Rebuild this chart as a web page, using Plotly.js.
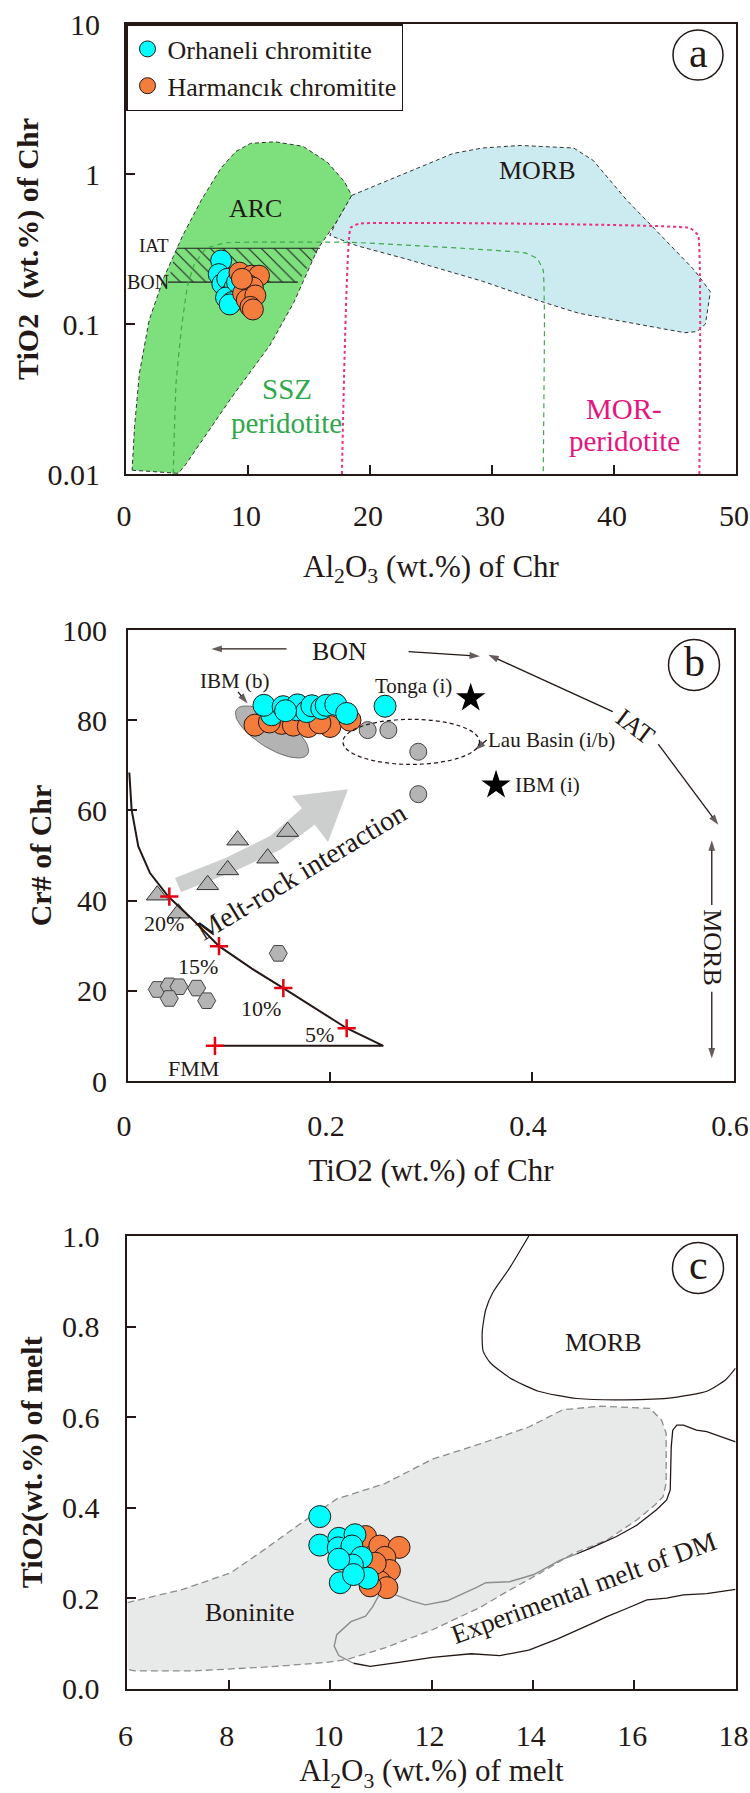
<!DOCTYPE html>
<html><head><meta charset="utf-8">
<script src="https://cdn.plot.ly/plotly-3.0.1.min.js"></script>
<style>html,body{margin:0;padding:0;background:#fff}#chart{width:750px;height:1793px}</style>
</head><body><div id="chart"></div>
<script>
// ---------------- Panel a data ----------------
const arcX = [0.5, 4.3, 4.9, 8.6, 11.8, 13.75, 15.7, 17.3, 18.5, 17.9, 16.5, 14.5, 12.2, 10.2, 9.0, 7.8, 6.2, 4.66, 3.1, 1.9, 1.1, 0.7, 0.5];
const arcY = [0.0106, 0.0101, 0.0116, 0.0319, 0.0723, 0.139, 0.315, 0.487, 0.72, 0.89, 1.2, 1.53, 1.64, 1.6, 1.41, 1.1, 0.676, 0.39, 0.204, 0.106, 0.047, 0.0207, 0.0106];
const morbAX = [18.5, 26.8, 29.2, 32.3, 36.7, 38.3, 41.0, 43.8, 46.6, 47.9, 47.5, 46.8, 45.8, 41.0, 37.1, 34.3, 29.2, 23.2, 18.9, 16.7, 17.3, 18.5];
const morbAY = [0.72, 1.37, 1.49, 1.55, 1.49, 1.23, 0.676, 0.39, 0.228, 0.164, 0.1, 0.089, 0.0875, 0.103, 0.118, 0.139, 0.193, 0.268, 0.333, 0.39, 0.487, 0.72];
const sszX = [3.87, 4.1, 4.56, 5.03, 5.6, 6.61, 8.25, 18.5, 32.7, 33.7, 34.2, 34.3, 34.2];
const sszY = [0.01, 0.04, 0.096, 0.177, 0.25, 0.32, 0.348, 0.35, 0.298, 0.273, 0.228, 0.106, 0.01];
const morPerX = [17.7, 18.4, 19.1, 46.2, 46.9, 47.0];
const morPerY = [0.01, 0.437, 0.467, 0.437, 0.39, 0.01];
const bandX = [4.15, 15.9, 14.1, 3.45, 4.15];
const bandY = [0.32, 0.32, 0.19, 0.19, 0.32];
const bandLineX = [4.15, 15.9, null, 3.45, 14.1];
const bandLineY = [0.32, 0.32, null, 0.19, 0.19];
const orhA_x = [7.8, 7.6, 7.9, 8.3, 8.6, 8.9, 8.2, 8.7, 9.1, 8.5];
const orhA_y = [0.265, 0.215, 0.185, 0.2, 0.16, 0.175, 0.15, 0.14, 0.19, 0.135];
const harA_x = [9.3, 10.3, 10.9, 9.7, 10.1, 9.6, 10.4, 9.9, 10.6, 10.2, 9.5, 10.4];
const harA_y = [0.22, 0.21, 0.21, 0.19, 0.18, 0.16, 0.175, 0.145, 0.155, 0.13, 0.2, 0.125];

// ---------------- Panel b data ----------------
const orhB_x = [0.2545, 0.1422, 0.1346, 0.1536, 0.167, 0.1678, 0.1769, 0.182, 0.1918, 0.1962, 0.2057, 0.2165, 0.156];
const orhB_y = [83.1, 81.2, 83.3, 83.0, 82.3, 83.4, 81.9, 83.2, 82.6, 83.3, 83.5, 81.5, 82.1];
const harB_x = [0.1257, 0.1522, 0.1637, 0.1785, 0.2, 0.2198, 0.14, 0.19];
const harB_y = [78.9, 79.3, 78.9, 78.6, 78.6, 80.0, 79.6, 79.4];
const lauX = [0.2373, 0.2578, 0.2874, 0.2874];
const lauY = [77.8, 77.8, 73.0, 63.6];
const triX = [0.1086, 0.1581, 0.0987, 0.1383, 0.0789, 0.029, 0.0498];
const triY = [53.4, 55.3, 46.8, 49.4, 43.5, 41.2, 37.2];
const hexX = [0.029, 0.0409, 0.0505, 0.0409, 0.068, 0.0779, 0.1488];
const hexY = [20.3, 21.1, 20.9, 18.3, 20.6, 17.8, 28.3];
const starX = [0.3393, 0.3644];
const starY = [84.9, 65.6];
const meltCurveX = [0.0013, 0.0036, 0.0102, 0.0218, 0.0399, 0.0635, 0.0901, 0.1227, 0.1538, 0.1867, 0.2165, 0.2528, 0.0861];
const meltCurveY = [68.4, 60.1, 52.0, 46.1, 40.9, 35.9, 29.9, 24.9, 20.6, 16.0, 11.7, 7.8, 7.8];
const meltStepX = [0.0409, 0.0901, 0.1538, 0.2165, 0.0861];
const meltStepY = [40.9, 29.9, 20.6, 11.7, 7.8];
const meltStepLbl = ['20%', '15%', '10%', '5%', 'FMM'];
const meltLblX = [0.0356, 0.0696, 0.1314, 0.19, 0.0653];
const meltLblY = [35.0, 25.3, 16.1, 10.4, 2.8];
const mriArrowX = [0.0465, 0.096, 0.1406, 0.1723, 0.1624, 0.2178, 0.198, 0.185, 0.1505, 0.103, 0.0525, 0.0465];
const mriArrowY = [45.0, 49.4, 54.3, 60.5, 63.2, 64.7, 53.0, 56.8, 51.2, 46.3, 41.9, 45.0];
const ibmB = {cx: 0.1426, cy: 77.4, a: 42, b: 16, deg: 32};
const lauBasin = {x0: 0.2128, x1: 0.348, y0: 70.2, y1: 80.2};
// arrows of panel b: [x tail, y tail, x head, y head]
const arrowsB = [
  [0.157, 95.8, 0.0825, 95.8],
  [0.2778, 95.2, 0.3485, 94.2],
  [0.4799, 81.9, 0.3567, 94.5],
  [0.525, 74.7, 0.5845, 56.8],
  [0.578, 39.0, 0.578, 53.4],
  [0.578, 19.8, 0.578, 5.0],
  [0.1089, 86.3, 0.1184, 83.7],
  [0.3551, 75.6, 0.3436, 73.4]
];

// ---------------- Panel c data ----------------
const bonX = [6.0, 7.09, 8.04, 8.7, 9.37, 10.13, 11.08, 12.02, 12.97, 13.92, 14.59, 15.34, 16.31, 16.54, 16.63, 16.63, 16.57, 16.41, 16.05, 15.46, 14.8, 14.14, 13.5, 12.97, 12.02, 11.08, 10.32, 9.94, 8.8, 7.28, 6.14, 6.0];
const bonY = [0.19, 0.219, 0.256, 0.307, 0.361, 0.419, 0.453, 0.507, 0.541, 0.578, 0.616, 0.624, 0.619, 0.593, 0.564, 0.454, 0.424, 0.406, 0.3725, 0.328, 0.299, 0.255, 0.215, 0.18, 0.13, 0.09, 0.064, 0.058, 0.048, 0.039, 0.039, 0.043];
const morbCX = [13.92, 13.54, 13.21, 13.07, 13.0, 13.02, 13.16, 13.54, 14.11, 14.87, 15.82, 16.77, 17.43, 17.81, 18.0];
const morbCY = [1.0, 0.929, 0.875, 0.837, 0.787, 0.745, 0.72, 0.687, 0.657, 0.641, 0.638, 0.643, 0.657, 0.683, 0.708];
const expUpBlkX = [18.0, 17.43, 17.23, 16.97, 16.84, 16.76, 16.73, 16.71, 16.64, 16.44, 16.05, 15.65, 15.13, 14.87];
const expUpBlkY = [0.545, 0.568, 0.571, 0.582, 0.582, 0.571, 0.534, 0.439, 0.417, 0.395, 0.361, 0.336, 0.31, 0.298];
const expUpGryX = [14.87, 14.54, 14.02, 13.54, 13.07, 12.88, 12.31, 11.88, 11.6, 11.22];
const expUpGryY = [0.298, 0.284, 0.252, 0.236, 0.234, 0.223, 0.194, 0.185, 0.194, 0.21];
const expLoGryX = [10.98, 10.84, 10.7, 10.41, 10.13, 10.08, 10.17, 10.46];
const expLoGryY = [0.21, 0.181, 0.16, 0.148, 0.119, 0.094, 0.073, 0.056];
const expLoBlkX = [10.46, 10.79, 11.36, 12.02, 12.78, 13.35, 13.92, 14.49, 15.25, 15.46, 15.85, 16.25, 16.64, 16.97, 17.43, 18.0];
const expLoBlkY = [0.056, 0.049, 0.058, 0.069, 0.077, 0.073, 0.085, 0.11, 0.148, 0.159, 0.177, 0.196, 0.2, 0.207, 0.21, 0.219];
const orhC_x = [9.795, 9.795, 10.17, 10.49, 10.16, 10.43, 10.62, 10.44, 10.17, 10.20, 10.74, 10.46];
const orhC_y = [0.380, 0.317, 0.332, 0.340, 0.311, 0.315, 0.290, 0.273, 0.286, 0.234, 0.244, 0.252];
const harC_x = [10.70, 10.98, 11.36, 11.08, 11.17, 10.98, 11.12, 10.79, 10.89];
const harC_y = [0.336, 0.315, 0.312, 0.290, 0.261, 0.236, 0.223, 0.227, 0.277];

// tick labels
const aXticks = [0, 10, 20, 30, 40, 50];
const aYticks = [0.01, 0.1, 1, 10];
const aYtickText = ['0.01', '0.1', '1', '10'];
const bXticks = [0, 0.2, 0.4, 0.6];
const bXtickText = ['0', '0.2', '0.4', '0.6'];
const cYticks = [0, 0.2, 0.4, 0.6, 0.8, 1.0];

// ---------------- layout helpers ----------------
const W = 750, H = 1793;
const F = 'Liberation Serif, Times New Roman, Times, serif';
const INK = '#231815';
const CYAN = '#00FFFF', ORANGE = '#F47C3C', GREY = '#B4B4B4';
const px = v => v / W, py = v => 1 - v / H;
const boxA = {l: 126, r: 736, t: 24, b: 474};
const boxB = {l: 128, r: 734, t: 630, b: 1081};
const boxC = {l: 127.4, r: 735.6, t: 1236, b: 1688.6};

// ellipse outline for IBM (b) field
const bRangeX = [0, 0.6], bRangeY = [0, 100];
const sx = (boxB.r - boxB.l) / (bRangeX[1] - bRangeX[0]);
const sy = (boxB.b - boxB.t) / (bRangeY[1] - bRangeY[0]);
const ellX = [], ellY = [];
{
  const th = ibmB.deg * Math.PI / 180;
  for (let i = 0; i <= 72; i++) {
    const t = i / 72 * 2 * Math.PI;
    const dx = ibmB.a * Math.cos(t) * Math.cos(th) - ibmB.b * Math.sin(t) * Math.sin(th);
    const dy = ibmB.a * Math.cos(t) * Math.sin(th) + ibmB.b * Math.sin(t) * Math.cos(th);
    ellX.push(ibmB.cx + dx / sx);
    ellY.push(ibmB.cy - dy / sy);
  }
}

const mk = (color, size) => ({color: color, size: size, line: {color: INK, width: 1}});
const traces = [
  // panel a
  {x: morbAX, y: morbAY, xaxis: 'x', yaxis: 'y', mode: 'lines', fill: 'toself', fillcolor: '#CBEBF0', line: {color: '#333', width: 1, dash: '4px,3px'}, showlegend: false, hoverinfo: 'skip'},
  {x: arcX, y: arcY, xaxis: 'x', yaxis: 'y', mode: 'lines', fill: 'toself', fillcolor: '#7DE07D', line: {color: '#333', width: 1, dash: '4px,3px'}, showlegend: false, hoverinfo: 'skip'},
  {x: bandX, y: bandY, xaxis: 'x', yaxis: 'y', mode: 'none', fill: 'toself', fillcolor: 'rgba(0,0,0,0)', fillpattern: {shape: '\\', fgcolor: '#222', bgcolor: 'rgba(0,0,0,0)', size: 9, solidity: 0.12}, showlegend: false, hoverinfo: 'skip'},
  {x: bandLineX, y: bandLineY, xaxis: 'x', yaxis: 'y', mode: 'lines', line: {color: '#222', width: 1.2}, showlegend: false, hoverinfo: 'skip'},
  {x: sszX, y: sszY, xaxis: 'x', yaxis: 'y', mode: 'lines', line: {color: '#3DAA4A', width: 1.2, dash: '5px,4px', shape: 'spline', smoothing: 0.3}, showlegend: false, hoverinfo: 'skip'},
  {x: morPerX, y: morPerY, xaxis: 'x', yaxis: 'y', mode: 'lines', line: {color: '#E8317F', width: 2, dash: 'dot', shape: 'spline', smoothing: 0.3}, showlegend: false, hoverinfo: 'skip'},
  {x: orhA_x, y: orhA_y, xaxis: 'x', yaxis: 'y', mode: 'markers', name: 'Orhaneli chromitite', marker: mk(CYAN, 21), legendgroup: 'o'},
  {x: harA_x, y: harA_y, xaxis: 'x', yaxis: 'y', mode: 'markers', name: 'Harmancık chromitite', marker: mk(ORANGE, 21), legendgroup: 'h'},
  // panel b
  {x: mriArrowX, y: mriArrowY, xaxis: 'x2', yaxis: 'y2', mode: 'none', fill: 'toself', fillcolor: '#CDCECE', showlegend: false, hoverinfo: 'skip'},
  {x: ellX, y: ellY, xaxis: 'x2', yaxis: 'y2', mode: 'lines', fill: 'toself', fillcolor: '#B3B3B3', line: {color: '#555', width: 0.8}, showlegend: false, hoverinfo: 'skip'},
  {x: harB_x, y: harB_y, xaxis: 'x2', yaxis: 'y2', mode: 'markers', name: 'Harmancık chromitite', marker: mk(ORANGE, 22), showlegend: false},
  {x: orhB_x, y: orhB_y, xaxis: 'x2', yaxis: 'y2', mode: 'markers', name: 'Orhaneli chromitite', marker: mk(CYAN, 22), showlegend: false},
  {x: lauX, y: lauY, xaxis: 'x2', yaxis: 'y2', mode: 'markers', marker: {color: GREY, size: 17, line: {color: '#444', width: 1}}, showlegend: false},
  {x: triX, y: triY, xaxis: 'x2', yaxis: 'y2', mode: 'markers', marker: {symbol: 'triangle-up', color: GREY, size: 19, line: {color: '#333', width: 1}}, showlegend: false},
  {x: hexX, y: hexY, xaxis: 'x2', yaxis: 'y2', mode: 'markers', marker: {symbol: 'hexagon2', color: GREY, size: 18, line: {color: '#444', width: 1}}, showlegend: false},
  {x: starX, y: starY, xaxis: 'x2', yaxis: 'y2', mode: 'markers', marker: {symbol: 'star', color: '#000', size: 22, line: {width: 0}}, showlegend: false},
  {x: meltCurveX, y: meltCurveY, xaxis: 'x2', yaxis: 'y2', mode: 'lines', line: {color: INK, width: 2}, showlegend: false, hoverinfo: 'skip'},
  {x: meltStepX, y: meltStepY, xaxis: 'x2', yaxis: 'y2', mode: 'markers', marker: {symbol: 'cross-thin', size: 13, line: {color: '#E60012', width: 2.5}}, showlegend: false},
  // panel c
  {x: bonX, y: bonY, xaxis: 'x3', yaxis: 'y3', mode: 'lines', fill: 'toself', fillcolor: '#E8E9E9', line: {color: '#8C8C8C', width: 1.3, dash: '7px,4px'}, showlegend: false, hoverinfo: 'skip'},
  {x: morbCX, y: morbCY, xaxis: 'x3', yaxis: 'y3', mode: 'lines', line: {color: INK, width: 1.2, shape: 'spline', smoothing: 0.6}, showlegend: false, hoverinfo: 'skip'},
  {x: expUpBlkX, y: expUpBlkY, xaxis: 'x3', yaxis: 'y3', mode: 'lines', line: {color: INK, width: 1.3}, showlegend: false, hoverinfo: 'skip'},
  {x: expLoBlkX, y: expLoBlkY, xaxis: 'x3', yaxis: 'y3', mode: 'lines', line: {color: INK, width: 1.3}, showlegend: false, hoverinfo: 'skip'},
  {x: expUpGryX, y: expUpGryY, xaxis: 'x3', yaxis: 'y3', mode: 'lines', line: {color: '#8C8C8C', width: 1.4}, showlegend: false, hoverinfo: 'skip'},
  {x: expLoGryX, y: expLoGryY, xaxis: 'x3', yaxis: 'y3', mode: 'lines', line: {color: '#8C8C8C', width: 1.4}, showlegend: false, hoverinfo: 'skip'},
  {x: harC_x, y: harC_y, xaxis: 'x3', yaxis: 'y3', mode: 'markers', name: 'Harmancık chromitite', marker: mk(ORANGE, 22), showlegend: false},
  {x: orhC_x, y: orhC_y, xaxis: 'x3', yaxis: 'y3', mode: 'markers', name: 'Orhaneli chromitite', marker: mk(CYAN, 22), showlegend: false}
];
// arrows as line traces with arrow-head markers
arrowsB.forEach(a => traces.push({
  x: [a[0], a[2]], y: [a[1], a[3]], xaxis: 'x2', yaxis: 'y2', mode: 'lines+markers',
  line: {color: INK, width: 1.3},
  marker: {symbol: 'arrow', angleref: 'previous', size: [0, 11], color: INK, line: {width: 0}},
  showlegend: false, hoverinfo: 'skip'
}));

const tickFont = {family: F, size: 30, color: INK};
const base = {showline: true, linecolor: INK, linewidth: 2, mirror: true, ticks: 'inside', tickcolor: INK, tickwidth: 2, ticklen: 9, showgrid: false, zeroline: false, tickfont: tickFont, ticklabeloverflow: 'allow'};
const xTitleFont = {family: F, size: 31, color: INK};
const yTitleFont = {family: F, size: 30, color: INK, weight: 'bold'};

const T = (x, y, text, size, ref, opt) => Object.assign({x: x, y: y, xref: ref[0], yref: ref[1], xanchor: 'center', yanchor: 'middle', text: text, showarrow: false, font: {family: F, size: size, color: INK}}, opt || {});
const ra = ['x', 'y'], rb = ['x2', 'y2'], rc = ['x3', 'y3'];
const L = Math.log10;
const green = '#2FA84A', pink = '#E4157F';

const annotations = [
  T(10.6, L(0.59), 'ARC', 26, ra),
  T(33.7, L(1.05), 'MORB', 26, ra),
  T(2.29, L(0.333), 'IAT', 19, ra),
  T(1.78, L(0.191), 'BON', 20, ra),
  T(13.16, L(0.0366), 'SSZ', 29, ra, {font: {family: F, size: 29, color: green}}),
  T(13.16, L(0.0218), 'peridotite', 29, ra, {font: {family: F, size: 29, color: green}}),
  T(40.83, L(0.0271), 'MOR-', 29, ra, {font: {family: F, size: 29, color: pink}}),
  T(40.83, L(0.0166), 'peridotite', 29, ra, {font: {family: F, size: 29, color: pink}}),
  // panel b
  T(0.2095, 95.2, 'BON', 26, rb),
  T(0.502, 78.6, 'IAT', 26, rb, {textangle: 37}),
  T(0.578, 29.5, 'MORB', 26, rb, {textangle: 90}),
  T(0.1056, 88.6, 'IBM (b)', 21, rb),
  T(0.2825, 87.6, 'Tonga (i)', 21, rb),
  T(0.4195, 75.6, 'Lau Basin (i/b)', 21, rb),
  T(0.4155, 65.6, 'IBM (i)', 21, rb),
  T(0.172, 46.4, 'Melt-rock interaction', 28, rb, {textangle: -31}),
  // panel c
  T(15.39, 0.764, 'MORB', 26, rc),
  T(8.42, 0.169, 'Boninite', 26, rc),
  T(15.0, 0.222, 'Experimental melt of DM', 27, rc, {textangle: -20}),
  // panel letters
  T(px(698), py(53), 'a', 42, ['paper', 'paper']),
  T(px(694), py(662), 'b', 42, ['paper', 'paper']),
  T(px(698), py(1265), 'c', 42, ['paper', 'paper'])
];
meltStepLbl.forEach((s, i) => annotations.push(T(meltLblX[i], meltLblY[i], s, 22, rb)));

const circ = (cx, cy, r) => ({type: 'circle', xref: 'paper', yref: 'paper', x0: px(cx - r), x1: px(cx + r), y0: py(cy + r), y1: py(cy - r), line: {color: INK, width: 1.5}});
const shapes = [
  circ(698, 55, 25), circ(694, 665, 25.5), circ(698, 1268, 25.5),
  {type: 'circle', xref: 'x2', yref: 'y2', x0: lauBasin.x0, x1: lauBasin.x1, y0: lauBasin.y0, y1: lauBasin.y1, line: {color: INK, width: 1.2, dash: '4px,3px'}}
];

const layout = {
  width: W, height: H, margin: {l: 0, r: 0, t: 0, b: 0},
  paper_bgcolor: '#fff', plot_bgcolor: 'rgba(0,0,0,0)',
  font: {family: F, color: INK},
  showlegend: true,
  legend: {x: px(boxA.l), y: py(boxA.t), xanchor: 'left', yanchor: 'top', bgcolor: '#fff', bordercolor: INK, borderwidth: 1.5, font: {family: F, size: 26, color: INK}, tracegroupgap: 0},
  xaxis: Object.assign({}, base, {domain: [px(boxA.l), px(boxA.r)], range: [0, 50], tickvals: aXticks, anchor: 'y', ticklabelstandoff: 14, ticklabelshift: -2, title: {text: 'Al<sub>2</sub>O<sub>3</sub> (wt.%) of Chr', font: xTitleFont, standoff: 24}}),
  yaxis: Object.assign({}, base, {domain: [py(boxA.b), py(boxA.t)], type: 'log', range: [-2, 1], tickvals: aYticks, ticktext: aYtickText, anchor: 'x', ticklabelstandoff: 18, title: {text: 'TiO2  (wt.%) of Chr', font: yTitleFont, standoff: 0}}),
  xaxis2: Object.assign({}, base, {domain: [px(boxB.l), px(boxB.r)], range: bRangeX, tickvals: bXticks, ticktext: bXtickText, anchor: 'y2', ticklabelstandoff: 17, ticklabelshift: -4, title: {text: 'TiO2 (wt.%) of Chr', font: xTitleFont, standoff: 18}}),
  yaxis2: Object.assign({}, base, {domain: [py(boxB.b), py(boxB.t)], range: bRangeY, dtick: 20, anchor: 'x2', ticklabelstandoff: 13, title: {text: 'Cr# of Chr', font: yTitleFont, standoff: 2}}),
  xaxis3: Object.assign({}, base, {domain: [px(boxC.l), px(boxC.r)], range: [6, 18], dtick: 2, anchor: 'y3', ticklabelstandoff: 19, ticklabelshift: -2, title: {text: 'Al<sub>2</sub>O<sub>3</sub> (wt.%) of melt', font: xTitleFont, standoff: 10}}),
  yaxis3: Object.assign({}, base, {domain: [py(boxC.b), py(boxC.t)], range: [0, 1], tickvals: cYticks, tickformat: '.1f', anchor: 'x3', ticklabelstandoff: 20, title: {text: 'TiO2(wt.%) of melt', font: yTitleFont, standoff: 10}}),
  annotations: annotations,
  shapes: shapes
};

Plotly.newPlot('chart', traces, layout, {staticPlot: true, displayModeBar: false});
</script></body></html>
